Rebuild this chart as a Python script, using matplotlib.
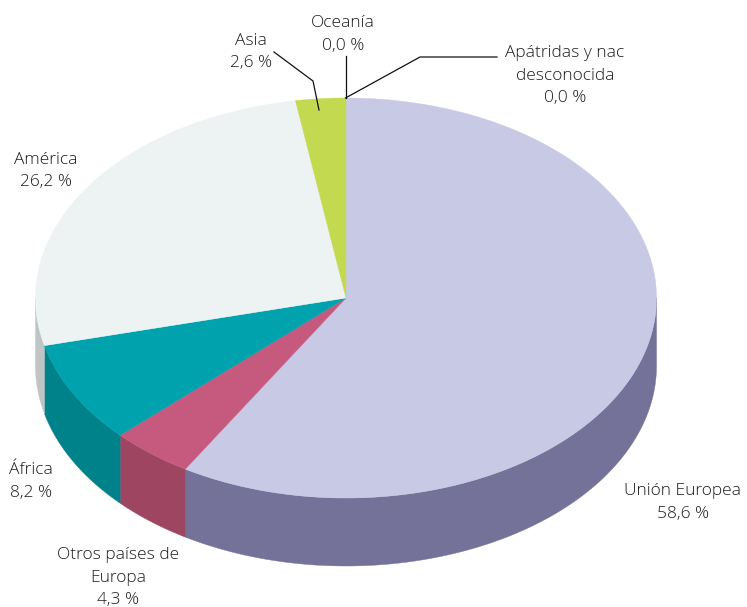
import numpy as np
import matplotlib
matplotlib.use("Agg")
import matplotlib.pyplot as plt
from matplotlib.patches import Polygon

plt.rcParams['font.family'] = ['Open Sans', 'DejaVu Sans']

# clockwise from 12 o'clock
categories = ['Unión Europea', 'Otros países de Europa', 'África', 'América', 'Asia', 'Oceanía', 'Apátridas y nac desconocida']
values = [58.6, 4.3, 8.2, 26.2, 2.6, 0.0, 0.0]
top_colors = ['#c8cae5', '#c65a7e', '#00a3ad', '#edf3f3', '#c3da50', '#c3da50', '#c3da50']
side_colors = ['#757299', '#9e4562', '#00828a', '#bfc5c5', '#9cae40', '#9cae40', '#9cae40']

cx, cy = 346, 298
rx, ry = 310.5, 200
depth = 68

fig = plt.figure(figsize=(7.47, 6.07), dpi=100)
ax = fig.add_axes([0, 0, 1, 1])
ax.set_xlim(0, 747)
ax.set_ylim(607, 0)
ax.axis('off')


def rim(t):
    # t in radians, clockwise from the top of the ellipse
    return cx + rx * np.sin(t), cy - ry * np.cos(t)


shares = np.array(values) / sum(values) * 2 * np.pi
edges = np.concatenate([[0], np.cumsum(shares)])

# side walls first, only the front half of the rim shows
for i in range(len(values)):
    a = max(edges[i], np.pi / 2)
    b = min(edges[i + 1], 3 * np.pi / 2)
    if b <= a:
        continue
    t = np.linspace(a, b, 200)
    x, y = rim(t)
    pts = np.concatenate([np.column_stack([x, y]), np.column_stack([x[::-1], y[::-1] + depth])])
    ax.add_patch(Polygon(pts, closed=True, fc=side_colors[i], ec=side_colors[i], lw=0.3))

for i in range(len(values)):
    if values[i] == 0:
        continue
    t = np.linspace(edges[i], edges[i + 1], 300)
    x, y = rim(t)
    pts = np.concatenate([[[cx, cy]], np.column_stack([x, y])])
    ax.add_patch(Polygon(pts, closed=True, fc=top_colors[i], ec=top_colors[i], lw=0.3))

# leader lines
ax.plot([345.5, 345.5], [56, 98], color='#111111', lw=0.9)
ax.plot([345.5, 420, 497], [98, 57, 57], color='#111111', lw=0.9)
ax.plot([274, 313, 319], [52, 81, 110], color='#111111', lw=0.9)

labels = [
    (683, 502.5, 'Unión Europea\n58,6 %'),
    (118, 577.5, 'Otros países de\nEuropa\n4,3 %'),
    (31, 481.5, 'África\n8,2 %'),
    (46, 171, 'América\n26,2 %'),
    (251, 52, 'Asia\n2,6 %'),
    (343, 34.5, 'Oceanía\n0,0 %'),
    (565, 75.5, 'Apátridas y nac\ndesconocida\n0,0 %'),
]
for lx, ly, s in labels:
    ax.text(lx, ly, s, ha='center', va='center', fontsize=12.5, color='#1c1c1c', linespacing=1.55,
            fontweight='light')

fig.savefig('out.png', dpi=100)
